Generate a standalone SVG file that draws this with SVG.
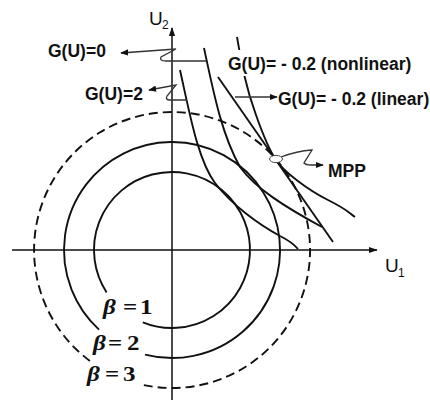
<svg xmlns="http://www.w3.org/2000/svg" width="430" height="403" viewBox="0 0 430 403">
<defs>
<marker id="ah" viewBox="0 0 10 10" refX="9" refY="5" markerWidth="8" markerHeight="8" markerUnits="userSpaceOnUse" orient="auto"><path d="M0,1 L10,5 L0,9 z" fill="#111"/></marker>
<marker id="axh" viewBox="0 0 10 10" refX="9" refY="5" markerWidth="9" markerHeight="9" markerUnits="userSpaceOnUse" orient="auto"><path d="M0,1.5 L10,5 L0,8.5 z" fill="#111"/></marker>
</defs>
<style>
.ax{stroke:#111;stroke-width:1.5;fill:none}
.cv{stroke:#111;stroke-width:1.9;fill:none}
.ds{stroke-dasharray:9 5}
.pt{stroke:#333;stroke-width:1.3;fill:none}
.lb{font-family:"Liberation Sans",Arial,sans-serif;font-weight:bold;font-size:17.5px;fill:#111}
.axl{font-family:"Liberation Sans",Arial,sans-serif;font-size:19px;fill:#111}
.sub{font-family:"Liberation Sans",Arial,sans-serif;font-size:12px;fill:#111}
.bt{font-family:"Liberation Serif","Times New Roman",serif;font-weight:bold;font-size:20px;fill:#111}
</style>
<rect width="430" height="403" fill="#fff"/>
<g id="axes">
<line class="ax" x1="172" y1="400" x2="172" y2="28" marker-end="url(#axh)"/>
<line class="ax" x1="12" y1="250" x2="377" y2="250" marker-end="url(#axh)"/>
<text class="axl" x="149" y="25">U</text><text class="sub" x="162" y="29">2</text>
<text class="axl" x="385" y="272">U</text><text class="sub" x="398" y="277">1</text>
</g>
<g id="circles">
<path class="cv" d="M106.6,292.5 A78,78 0 1 1 142.8,322.3"/>
<path class="cv" d="M99,329.6 A108,108 0 1 1 145,354.6"/>
<path class="cv ds" d="M89.9,360.9 A138,138 0 1 1 143.3,385"/>
</g>
<g id="connectors">
<path id="g2" class="cv" d="M180,70 C190,115 198,160 215,183 C232,205 258,224 280,236 Q292,242 298,249"/>
<path id="g0" class="cv" d="M204,48 C214,95 222,135 240,167 C255,188 285,207 322,227"/>
<path id="glin" class="cv" d="M218,77 L333,242"/>
<path id="gnl" class="cv" d="M237,37 C241,60 245,85 256,115 C262,132 268,148 276,160 C284,172 308,190 328,200 S348,212 355,217"/>
<path class="pt" d="M206,61 L166,61 Q159,61 161,57 L176,49 L121,53" marker-end="url(#ah)"/>
<path class="pt" d="M187,100 L170,100 Q165,100 167,96 L176,85 L149,90" marker-end="url(#ah)"/>
<path class="pt" d="M235,97 L277,97" marker-end="url(#ah)"/>
<path class="pt" d="M281,157 Q297,151 312,150 L304,163 Q306,165 311,165 L323,165" marker-end="url(#ah)"/>
</g>
<g id="mpp">
<ellipse cx="276" cy="159" rx="6.5" ry="3.6" fill="#fff" stroke="#444" stroke-width="1"/>
<text class="lb" x="328" y="177">MPP</text>
</g>
<g id="labels">
<text class="lb" x="48" y="57">G(U)=0</text>
<text class="lb" x="85" y="100">G(U)=2</text>
<rect x="226" y="50" width="190" height="26" fill="#fff"/>
<text class="lb" x="228" y="70">G(U)= - 0.2 (nonlinear)</text>
<text class="lb" x="278" y="105">G(U)= - 0.2 (linear)</text>
</g>
<g id="betas">
<text class="bt" transform="translate(103,314) scale(1.25,1)"><tspan x="0" font-style="italic">β</tspan><tspan x="16">=</tspan><tspan x="29.6">1</tspan></text>
<text class="bt" transform="translate(93,350) scale(1.25,1)"><tspan x="0" font-style="italic">β</tspan><tspan x="12">=</tspan><tspan x="27.2">2</tspan></text>
<text class="bt" transform="translate(87,381) scale(1.25,1)"><tspan x="0" font-style="italic">β</tspan><tspan x="14.4">=</tspan><tspan x="28.8">3</tspan></text>
</g>
</svg>
